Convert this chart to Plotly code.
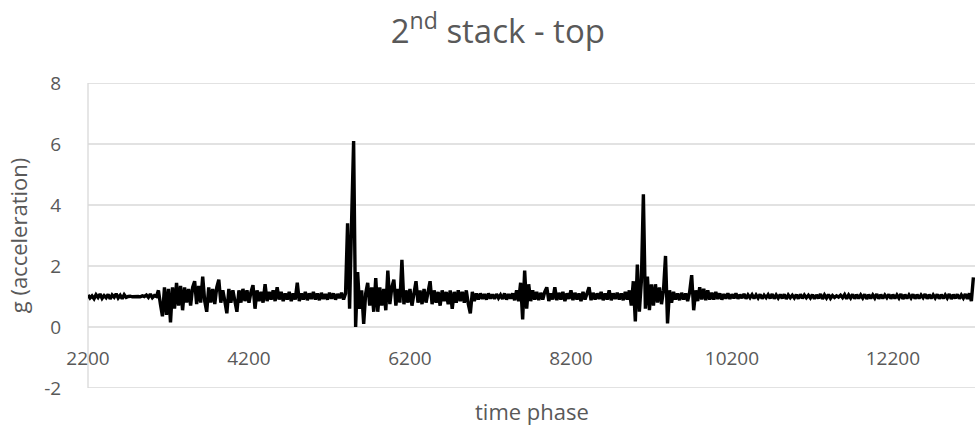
import plotly.graph_objects as go

# ---- data ----
x_start = 2200
x_step = 25

seg_a = [1.05, 0.95, 1.02, 0.93, 1.06, 0.97, 1.08, 0.94, 1.03, 0.96,
         1.07, 0.92, 1.05, 0.98, 1.09, 0.95, 1.04, 0.93, 1.06, 0.97,
         1.0, 1.01, 0.99, 1.0, 1.01, 1.0, 0.99, 1.02, 1.0, 1.05,
         0.97, 1.08, 0.96, 1.03, 1.0]
seg_b = [1.2, 0.75, 0.35, 1.3, 0.4, 1.25, 0.15, 1.3, 0.6, 1.45,
         0.7, 1.35, 0.55, 1.3, 0.8, 1.25, 0.7, 1.3, 1.5, 0.75,
         1.35, 0.8, 1.65, 0.85, 0.5, 1.3, 0.8, 1.25, 0.75, 1.3,
         1.55, 0.8, 1.2, 0.85, 0.45, 1.25, 0.8, 1.2, 0.85, 0.5,
         1.2, 0.8, 1.25, 0.85, 1.2, 0.8, 1.15, 1.37, 0.6, 1.2,
         0.85, 1.15, 0.8, 1.4]
seg_c = [0.85, 1.15, 0.9, 1.2, 0.85, 1.3, 0.9, 1.15, 0.85, 1.1,
         0.9, 1.15, 0.85, 1.1, 0.9, 1.45, 0.85, 1.1, 0.9, 1.15,
         0.88, 1.1, 0.92, 1.15, 0.9, 1.1, 0.88, 1.12, 0.92, 1.08,
         0.9, 1.12, 0.93, 1.1, 0.9, 1.08, 0.95, 1.12, 0.9, 1.1]
seg_d = [3.4, 0.6, 3.45, 6.1, 0.0, 1.8, 0.6, 1.2, 0.1, 1.1,
         1.45, 0.7, 1.3, 0.5, 1.6, 0.5, 1.3, 0.7, 1.25, 0.55,
         1.85, 0.75, 1.3, 1.55, 0.7, 1.25, 0.8, 2.2, 0.75, 1.2,
         0.8, 1.25, 0.7, 1.2, 1.5, 0.8, 1.2, 0.75, 1.25, 0.8,
         1.2, 1.5, 0.75, 1.2, 0.8, 1.15, 0.7, 1.2, 0.85, 1.15,
         0.75, 1.2, 0.6, 1.15, 0.8, 1.2, 0.85, 1.15, 0.8, 1.2,
         0.75, 0.45, 1.15, 0.85, 1.1]
seg_e = [0.9, 1.1, 0.92, 1.08, 0.9, 1.1, 0.93, 1.07, 0.92, 1.08,
         0.95, 1.05, 0.92, 1.1, 0.9, 1.08, 0.93, 1.1, 0.88]
seg_f = [1.2, 0.85, 1.45, 0.25, 1.85, 0.6, 1.4, 0.85, 1.2, 0.9, 1.15]
seg_g = [0.88, 1.12, 0.9, 1.15, 1.3, 0.85, 1.1, 0.9, 1.3, 0.88,
         1.12, 0.9, 1.15, 0.85, 1.1, 0.92, 1.2, 0.88, 1.12, 0.9,
         1.1, 0.85, 1.15, 0.9, 1.1, 1.3, 0.88, 1.12, 0.9, 1.1,
         0.92, 1.15, 0.88, 1.1, 0.9, 1.2, 0.88, 1.1, 0.92, 1.12,
         0.9, 1.1, 0.88, 1.15, 0.9]
seg_h = [1.2, 0.7, 1.5, 0.18, 2.05, 0.5, 1.5, 4.35, 0.6, 1.65,
         0.55, 1.4, 0.7, 1.4, 0.8, 1.3, 0.75, 1.2, 2.33, 0.12,
         1.2, 0.8, 1.15, 0.9]
seg_i = [1.1, 0.88, 1.12, 0.9, 1.1, 0.85, 1.15, 1.7, 0.55, 1.2,
         0.85, 1.3, 0.9, 1.25, 0.88, 1.2, 0.9]
seg_j = [1.12, 0.9, 1.15, 0.92, 1.1, 0.9, 1.08, 0.93, 1.1, 0.92,
         1.07, 0.94, 1.1, 0.93, 1.06, 0.95, 1.08, 0.93, 1.05, 0.96,
         1.06, 0.94, 1.05, 0.95, 1.07, 0.93, 1.04, 0.96, 1.06, 0.94,
         1.08, 0.93, 1.05, 0.95, 1.06, 0.94, 1.07, 0.92, 1.05, 0.96,
         1.04, 0.95, 1.06, 0.93, 1.07, 0.94, 1.05, 0.96, 1.04, 0.95,
         1.06, 0.93, 1.05, 0.94, 1.08, 0.92, 1.05, 0.95, 1.06, 0.94,
         1.03, 0.97, 1.02, 0.98, 1.04, 0.96, 1.06, 0.93, 1.05, 0.95,
         1.07, 0.93, 1.06, 0.94, 1.05, 0.95, 1.07, 0.92, 1.06, 0.94,
         1.05, 0.95, 1.08, 0.93, 1.06, 0.94, 1.05, 0.96, 1.07, 0.93,
         1.06, 0.94, 1.05, 0.95, 1.08, 0.92, 1.06, 0.94, 1.05, 0.95,
         1.07, 0.93, 1.06, 0.94, 1.05, 0.96, 1.08, 0.93, 1.06, 0.94,
         1.05, 0.95, 1.07, 0.93, 1.06, 0.94, 1.05, 0.95, 1.08, 0.92,
         1.06, 0.94, 1.07, 0.93, 1.05, 0.95, 1.08, 0.92, 1.1, 0.85,
         1.63]

g_values = seg_a + seg_b + seg_c + seg_d + seg_e + seg_f + seg_g + seg_h + seg_i + seg_j
time_phase = [x_start + x_step * i for i in range(len(g_values))]

x_ticks = [2200, 4200, 6200, 8200, 10200, 12200]
y_ticks = [-2, 0, 2, 4, 6, 8]
y_tick_text = ["-2", "0", "2", "4", "6", "8"]
x_range = [2200, 13220]
y_range = [-2, 8]

title_text = "2<sup>nd</sup> stack - top"
x_title = "time phase"
y_title = "g (acceleration)"

GRAY = "#595959"
GRID = "#d9d9d9"
FONT = "Open Sans"

fig = go.Figure()
fig.add_trace(go.Scatter(
    x=time_phase, y=g_values, mode="lines",
    line=dict(color="black", width=3.4),
    showlegend=False, hoverinfo="skip",
))

# horizontal gridlines (drawn as shapes so the y=0 and y=-2 lines are kept)
shapes = [dict(type="line", xref="paper", x0=0, x1=1, yref="y", y0=v, y1=v,
               line=dict(color=GRID, width=1.3), layer="below") for v in y_ticks]
# vertical axis line on the left
shapes.append(dict(type="line", xref="paper", x0=0, x1=0, yref="y",
                   y0=y_range[0], y1=y_range[1],
                   line=dict(color=GRID, width=1.3), layer="below"))

zero_pos = (0 - y_range[0]) / (y_range[1] - y_range[0])

fig.update_layout(
    width=978, height=430,
    margin=dict(l=88, r=3, t=83, b=42),
    paper_bgcolor="white", plot_bgcolor="white",
    font=dict(family=FONT, color=GRAY, size=19),
    title=dict(text=title_text, x=0.509, xref="container", xanchor="center",
               y=1 - 31 / 430, yref="container", yanchor="middle",
               font=dict(family=FONT, size=33, color=GRAY)),
    xaxis=dict(range=x_range, tickvals=x_ticks, ticktext=[str(v) for v in x_ticks],
               showgrid=False, zeroline=False, showline=False,
               anchor="free", position=zero_pos,
               ticks="outside", ticklen=14, tickcolor="rgba(0,0,0,0)",
               tickfont=dict(size=19, color=GRAY, family=FONT)),
    yaxis=dict(range=y_range, tickvals=y_ticks, ticktext=y_tick_text,
               showgrid=False, zeroline=False, showline=False,
               ticks="outside", ticklen=22, tickcolor="rgba(0,0,0,0)",
               tickfont=dict(size=19, color=GRAY, family=FONT),
               title=dict(text=y_title, standoff=10, font=dict(size=22, color=GRAY, family=FONT))),
    shapes=shapes,
    annotations=[dict(text=x_title, xref="paper", yref="paper", x=0.5, y=0,
                      yshift=-23, xanchor="center", yanchor="middle", showarrow=False,
                      font=dict(size=22, color=GRAY, family=FONT))],
)

fig.write_html("out.html")
